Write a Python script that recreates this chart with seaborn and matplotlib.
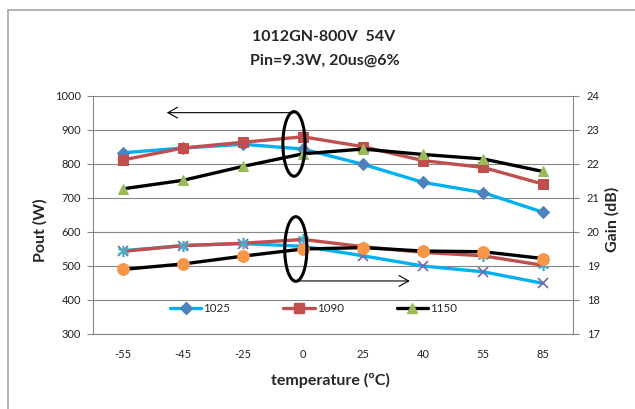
import matplotlib
matplotlib.use("Agg")
import matplotlib.pyplot as plt
import seaborn as sns
from matplotlib.patches import Ellipse
from matplotlib.lines import Line2D

# data
temps = ["-55", "-45", "-25", "0", "25", "40", "55", "85"]
freqs = ["1025", "1090", "1150"]

pout_1025 = [833, 847, 858, 844, 799, 746, 716, 658]
pout_1090 = [812, 847, 864, 880, 851, 810, 790, 741]
pout_1150 = [727, 752, 793, 830, 844, 828, 815, 778]

gain_1025 = [19.45, 19.6, 19.66, 19.58, 19.3, 19.0, 18.83, 18.49]
gain_1090 = [19.43, 19.6, 19.67, 19.78, 19.57, 19.4, 19.3, 19.02]
gain_1150 = [18.9, 19.06, 19.29, 19.5, 19.54, 19.44, 19.42, 19.22]

sns.set_style("white")
plt.rcParams["font.family"] = ["Lato", "DejaVu Sans"]

grey = "#868686"
line_cols = ["#00B0F0", "#C0504D", "#000000"]

fig = plt.figure(figsize=(6.35, 4.09), dpi=100)
ax = fig.add_axes([93/635, 1-334/409, 480/635, 238/409])
ax2 = ax.twinx()

xpos = list(range(len(temps)))

#Pout series (left axis)
pout_style = [("D", 6, "#4F81BD"), ("s", 7, "#C0504D"), ("^", 7.5, "#9BBB59")]
handles = []
for vals, (mk, ms, mc), lc, name in zip([pout_1025, pout_1090, pout_1150],
                                        pout_style, line_cols, freqs):
    sns.lineplot(x=xpos, y=vals, ax=ax, color=lc, lw=2.4, marker=mk,
                 markersize=ms, markerfacecolor=mc, markeredgecolor=mc,
                 legend=False)
    handles.append(Line2D([], [], color=lc, lw=2.4, marker=mk, markersize=ms,
                          markerfacecolor=mc, markeredgecolor=mc, label=name))

#Gain series (right axis)
gain_style = [("x", 7, "#8064A2"), ((6, 2, 0), 8, "#4BACC6"), ("o", 8, "#F79646")]
for vals, (mk, ms, mc), lc in zip([gain_1025, gain_1090, gain_1150],
                                  gain_style, line_cols):
    sns.lineplot(x=xpos, y=vals, ax=ax2, color=lc, lw=2.4, marker=mk,
                 markersize=ms, markerfacecolor=mc, markeredgecolor=mc,
                 markeredgewidth=1.2, legend=False)

ax.set_xlim(-0.5, 7.5)
ax.set_ylim(300, 1000)
ax.set_yticks(range(300, 1001, 100))
ax2.set_ylim(17, 24)
ax2.set_yticks(range(17, 25))
ax.set_xticks(xpos)
ax.set_xticklabels(temps)

ax.yaxis.grid(True, color=grey, lw=0.8)
ax.xaxis.grid(False)
ax.set_axisbelow(True)

for a in (ax, ax2):
    for s in a.spines.values():
        s.set_visible(False)
ax.spines["left"].set_visible(True)
ax.spines["bottom"].set_visible(True)
ax2.spines["right"].set_visible(True)
for s in (ax.spines["left"], ax.spines["bottom"], ax2.spines["right"]):
    s.set_color(grey)
    s.set_linewidth(0.8)

ax.tick_params(axis="y", length=4.3, width=0.8, color=grey, pad=4.3,
               labelsize=8, labelcolor="#222222", left=True)
ax.tick_params(axis="x", length=0, pad=11, labelsize=8, labelcolor="#222222")
ax2.tick_params(axis="y", length=4.3, width=0.8, color=grey, pad=5.5,
                labelsize=8, labelcolor="#222222", right=True)

ax.set_xlabel("temperature (ºC)", fontsize=11.5, fontweight="bold")
ax.xaxis.set_label_coords(0.494, -0.165)
ax.set_ylabel("Pout (W)", fontsize=11.5, fontweight="bold")
ax.yaxis.set_label_coords(-0.094, 0.437)
ax2.set_ylabel("Gain (dB)", fontsize=11.5, fontweight="bold")
ax2.yaxis.set_label_coords(1.067, 0.483)

#ellipses and arrows
for cx, cy in [(2.85, 859), (2.88, 550)]:
    ax2.add_patch(Ellipse((cx, cy), 0.37, 190, fill=False, ec="black", lw=2.2,
                          transform=ax.transData, zorder=5))
arrow = dict(arrowstyle="->,head_length=0.5,head_width=0.28", lw=0.8,
             color="black", mutation_scale=14, shrinkA=0, shrinkB=0)
ax2.annotate("", xy=(0.73, 951), xytext=(2.87, 951), xycoords=ax.transData,
             textcoords=ax.transData, arrowprops=arrow)
ax2.annotate("", xy=(4.78, 456), xytext=(2.9, 456), xycoords=ax.transData,
             textcoords=ax.transData, arrowprops=arrow)

fig.legend(handles=handles, loc="center left",
           bbox_to_anchor=(170/635, 1-309/409), ncol=3, frameon=False,
           fontsize=8.3, handlelength=2.7, handletextpad=0.2,
           columnspacing=4.6, borderpad=0, borderaxespad=0)

fig.text(324/635, 1-41/409, "1012GN-800V  54V", ha="center", va="baseline",
         fontsize=11.5, fontweight="bold")
fig.text(325/635, 1-65/409, "Pin=9.3W, 20us@6%", ha="center", va="baseline",
         fontsize=11.5, fontweight="bold")

#chart area border (cropped)
fig.add_artist(Line2D([8/635, 1], [1-9.5/409]*2, color="#A6A6A6", lw=1.2,
                      transform=fig.transFigure))
fig.add_artist(Line2D([8/635]*2, [0, 1-9.5/409], color="#A6A6A6", lw=1.2,
                      transform=fig.transFigure))

fig.savefig("out.png", dpi=100)
